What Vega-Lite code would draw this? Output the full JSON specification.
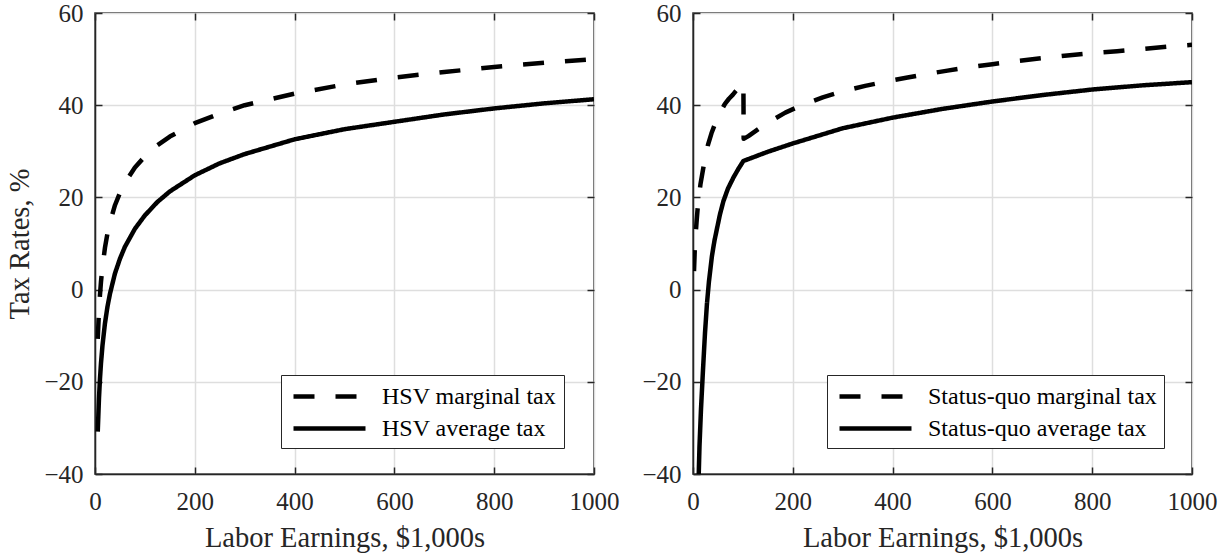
{
  "$schema": "https://vega.github.io/schema/vega-lite/v6.json",
  "background": "white",
  "padding": {"left": 5, "top": 0, "right": 10, "bottom": 0},
  "spacing": 99,
  "bounds": "flush",
  "datasets": {
    "hsv": [
      {"earnings": 5.5, "rate": -10.7, "series": "HSV marginal tax"},
      {"earnings": 8, "rate": -4.6, "series": "HSV marginal tax"},
      {"earnings": 10, "rate": -1.1, "series": "HSV marginal tax"},
      {"earnings": 12, "rate": 1.7, "series": "HSV marginal tax"},
      {"earnings": 15, "rate": 5.0, "series": "HSV marginal tax"},
      {"earnings": 20, "rate": 9.1, "series": "HSV marginal tax"},
      {"earnings": 25, "rate": 12.2, "series": "HSV marginal tax"},
      {"earnings": 30, "rate": 14.6, "series": "HSV marginal tax"},
      {"earnings": 40, "rate": 18.3, "series": "HSV marginal tax"},
      {"earnings": 50, "rate": 21.0, "series": "HSV marginal tax"},
      {"earnings": 60, "rate": 23.2, "series": "HSV marginal tax"},
      {"earnings": 80, "rate": 26.5, "series": "HSV marginal tax"},
      {"earnings": 100, "rate": 28.9, "series": "HSV marginal tax"},
      {"earnings": 125, "rate": 31.3, "series": "HSV marginal tax"},
      {"earnings": 150, "rate": 33.2, "series": "HSV marginal tax"},
      {"earnings": 200, "rate": 36.1, "series": "HSV marginal tax"},
      {"earnings": 250, "rate": 38.2, "series": "HSV marginal tax"},
      {"earnings": 300, "rate": 40.0, "series": "HSV marginal tax"},
      {"earnings": 400, "rate": 42.5, "series": "HSV marginal tax"},
      {"earnings": 500, "rate": 44.5, "series": "HSV marginal tax"},
      {"earnings": 600, "rate": 46.0, "series": "HSV marginal tax"},
      {"earnings": 700, "rate": 47.2, "series": "HSV marginal tax"},
      {"earnings": 800, "rate": 48.3, "series": "HSV marginal tax"},
      {"earnings": 900, "rate": 49.2, "series": "HSV marginal tax"},
      {"earnings": 1000, "rate": 50.0, "series": "HSV marginal tax"},
      {"earnings": 5.5, "rate": -30.8, "series": "HSV average tax"},
      {"earnings": 8, "rate": -23.5, "series": "HSV average tax"},
      {"earnings": 10, "rate": -19.3, "series": "HSV average tax"},
      {"earnings": 12, "rate": -16.0, "series": "HSV average tax"},
      {"earnings": 15, "rate": -12.1, "series": "HSV average tax"},
      {"earnings": 20, "rate": -7.3, "series": "HSV average tax"},
      {"earnings": 25, "rate": -3.7, "series": "HSV average tax"},
      {"earnings": 30, "rate": -0.9, "series": "HSV average tax"},
      {"earnings": 40, "rate": 3.5, "series": "HSV average tax"},
      {"earnings": 50, "rate": 6.7, "series": "HSV average tax"},
      {"earnings": 60, "rate": 9.3, "series": "HSV average tax"},
      {"earnings": 80, "rate": 13.2, "series": "HSV average tax"},
      {"earnings": 100, "rate": 16.1, "series": "HSV average tax"},
      {"earnings": 125, "rate": 19.0, "series": "HSV average tax"},
      {"earnings": 150, "rate": 21.3, "series": "HSV average tax"},
      {"earnings": 200, "rate": 24.8, "series": "HSV average tax"},
      {"earnings": 250, "rate": 27.4, "series": "HSV average tax"},
      {"earnings": 300, "rate": 29.4, "series": "HSV average tax"},
      {"earnings": 400, "rate": 32.6, "series": "HSV average tax"},
      {"earnings": 500, "rate": 34.8, "series": "HSV average tax"},
      {"earnings": 600, "rate": 36.4, "series": "HSV average tax"},
      {"earnings": 700, "rate": 38.0, "series": "HSV average tax"},
      {"earnings": 800, "rate": 39.3, "series": "HSV average tax"},
      {"earnings": 900, "rate": 40.4, "series": "HSV average tax"},
      {"earnings": 1000, "rate": 41.3, "series": "HSV average tax"}
    ],
    "statusquo": [
      {"earnings": 2, "rate": 4.0, "series": "Status-quo marginal tax"},
      {"earnings": 4, "rate": 10.0, "series": "Status-quo marginal tax"},
      {"earnings": 7, "rate": 14.5, "series": "Status-quo marginal tax"},
      {"earnings": 10, "rate": 18.5, "series": "Status-quo marginal tax"},
      {"earnings": 15, "rate": 22.9, "series": "Status-quo marginal tax"},
      {"earnings": 22, "rate": 27.2, "series": "Status-quo marginal tax"},
      {"earnings": 30, "rate": 31.4, "series": "Status-quo marginal tax"},
      {"earnings": 37, "rate": 33.9, "series": "Status-quo marginal tax"},
      {"earnings": 44, "rate": 35.9, "series": "Status-quo marginal tax"},
      {"earnings": 50, "rate": 37.4, "series": "Status-quo marginal tax"},
      {"earnings": 57, "rate": 38.9, "series": "Status-quo marginal tax"},
      {"earnings": 64, "rate": 40.3, "series": "Status-quo marginal tax"},
      {"earnings": 72, "rate": 41.4, "series": "Status-quo marginal tax"},
      {"earnings": 80, "rate": 42.3, "series": "Status-quo marginal tax"},
      {"earnings": 86, "rate": 43.1, "series": "Status-quo marginal tax"},
      {"earnings": 93, "rate": 44.0, "series": "Status-quo marginal tax"},
      {"earnings": 101, "rate": 44.8, "series": "Status-quo marginal tax"},
      {"earnings": 101.5, "rate": 32.7, "series": "Status-quo marginal tax"},
      {"earnings": 111, "rate": 33.3, "series": "Status-quo marginal tax"},
      {"earnings": 145, "rate": 35.9, "series": "Status-quo marginal tax"},
      {"earnings": 185, "rate": 38.4, "series": "Status-quo marginal tax"},
      {"earnings": 220, "rate": 40.1, "series": "Status-quo marginal tax"},
      {"earnings": 260, "rate": 41.7, "series": "Status-quo marginal tax"},
      {"earnings": 300, "rate": 43.0, "series": "Status-quo marginal tax"},
      {"earnings": 345, "rate": 44.2, "series": "Status-quo marginal tax"},
      {"earnings": 385, "rate": 45.1, "series": "Status-quo marginal tax"},
      {"earnings": 430, "rate": 46.0, "series": "Status-quo marginal tax"},
      {"earnings": 470, "rate": 46.8, "series": "Status-quo marginal tax"},
      {"earnings": 510, "rate": 47.5, "series": "Status-quo marginal tax"},
      {"earnings": 550, "rate": 48.2, "series": "Status-quo marginal tax"},
      {"earnings": 600, "rate": 48.9, "series": "Status-quo marginal tax"},
      {"earnings": 650, "rate": 49.6, "series": "Status-quo marginal tax"},
      {"earnings": 700, "rate": 50.2, "series": "Status-quo marginal tax"},
      {"earnings": 750, "rate": 50.8, "series": "Status-quo marginal tax"},
      {"earnings": 800, "rate": 51.3, "series": "Status-quo marginal tax"},
      {"earnings": 850, "rate": 51.7, "series": "Status-quo marginal tax"},
      {"earnings": 900, "rate": 52.2, "series": "Status-quo marginal tax"},
      {"earnings": 950, "rate": 52.7, "series": "Status-quo marginal tax"},
      {"earnings": 1000, "rate": 53.1, "series": "Status-quo marginal tax"},
      {"earnings": 9.5, "rate": -50.0, "series": "Status-quo average tax"},
      {"earnings": 11, "rate": -42.0, "series": "Status-quo average tax"},
      {"earnings": 13, "rate": -34.0, "series": "Status-quo average tax"},
      {"earnings": 16, "rate": -26.0, "series": "Status-quo average tax"},
      {"earnings": 20, "rate": -17.5, "series": "Status-quo average tax"},
      {"earnings": 24, "rate": -9.5, "series": "Status-quo average tax"},
      {"earnings": 28, "rate": -3.0, "series": "Status-quo average tax"},
      {"earnings": 32, "rate": 1.8, "series": "Status-quo average tax"},
      {"earnings": 38, "rate": 7.3, "series": "Status-quo average tax"},
      {"earnings": 43, "rate": 10.6, "series": "Status-quo average tax"},
      {"earnings": 48, "rate": 13.2, "series": "Status-quo average tax"},
      {"earnings": 54, "rate": 16.3, "series": "Status-quo average tax"},
      {"earnings": 61, "rate": 19.2, "series": "Status-quo average tax"},
      {"earnings": 70, "rate": 21.9, "series": "Status-quo average tax"},
      {"earnings": 81, "rate": 24.3, "series": "Status-quo average tax"},
      {"earnings": 91, "rate": 26.2, "series": "Status-quo average tax"},
      {"earnings": 101, "rate": 27.9, "series": "Status-quo average tax"},
      {"earnings": 150, "rate": 29.9, "series": "Status-quo average tax"},
      {"earnings": 200, "rate": 31.7, "series": "Status-quo average tax"},
      {"earnings": 300, "rate": 35.0, "series": "Status-quo average tax"},
      {"earnings": 400, "rate": 37.3, "series": "Status-quo average tax"},
      {"earnings": 500, "rate": 39.2, "series": "Status-quo average tax"},
      {"earnings": 600, "rate": 40.8, "series": "Status-quo average tax"},
      {"earnings": 700, "rate": 42.2, "series": "Status-quo average tax"},
      {"earnings": 800, "rate": 43.4, "series": "Status-quo average tax"},
      {"earnings": 900, "rate": 44.3, "series": "Status-quo average tax"},
      {"earnings": 1000, "rate": 45.0, "series": "Status-quo average tax"}
    ]
  },
  "hconcat": [
    {
      "width": 499,
      "height": 461,
      "data": {"name": "hsv"},
      "layer": [
        {
          "mark": {"type": "line", "clip": true, "strokeWidth": 4.5, "strokeCap": "butt", "strokeJoin": "round", "color": "black"},
          "encoding": {
            "x": {"field": "earnings", "type": "quantitative", "scale": {"domain": [0, 1000], "nice": false},
                  "axis": {"title": "Labor Earnings, $1,000s", "values": [0, 200, 400, 600, 800, 1000], "format": "d", "grid": true}},
            "y": {"field": "rate", "type": "quantitative", "scale": {"domain": [-40, 60], "nice": false},
                  "axis": {"title": "Tax Rates, %", "values": [-40, -20, 0, 20, 40, 60], "grid": true}},
            "strokeDash": {"field": "series", "type": "nominal",
                  "scale": {"domain": ["HSV marginal tax", "HSV average tax"], "range": [[21, 21], [1, 0]]},
                  "legend": {"orient": "none", "legendX": 186, "legendY": 362, "title": null}}
          }
        },
        {
          "mark": {"type": "line", "opacity": 0},
          "encoding": {
            "x": {"field": "earnings", "type": "quantitative", "scale": {"domain": [0, 1000], "nice": false},
                  "axis": {"orient": "top", "title": null, "labels": false, "domain": false, "grid": false, "values": [0, 200, 400, 600, 800, 1000]}},
            "y": {"field": "rate", "type": "quantitative", "scale": {"domain": [-40, 60], "nice": false},
                  "axis": {"orient": "right", "title": null, "labels": false, "domain": false, "grid": false, "values": [-40, -20, 0, 20, 40, 60]}},
            "detail": {"field": "series"}
          }
        }
      ],
      "resolve": {"axis": {"x": "independent", "y": "independent"}}
    },
    {
      "width": 499,
      "height": 461,
      "data": {"name": "statusquo"},
      "layer": [
        {
          "mark": {"type": "line", "clip": true, "strokeWidth": 4.5, "strokeCap": "butt", "strokeJoin": "round", "color": "black"},
          "encoding": {
            "x": {"field": "earnings", "type": "quantitative", "scale": {"domain": [0, 1000], "nice": false},
                  "axis": {"title": "Labor Earnings, $1,000s", "values": [0, 200, 400, 600, 800, 1000], "format": "d", "grid": true}},
            "y": {"field": "rate", "type": "quantitative", "scale": {"domain": [-40, 60], "nice": false},
                  "axis": {"title": null, "values": [-40, -20, 0, 20, 40, 60], "grid": true}},
            "strokeDash": {"field": "series", "type": "nominal",
                  "scale": {"domain": ["Status-quo marginal tax", "Status-quo average tax"], "range": [[21, 21], [1, 0]]},
                  "legend": {"orient": "none", "legendX": 134, "legendY": 362, "title": null}}
          }
        },
        {
          "mark": {"type": "line", "opacity": 0},
          "encoding": {
            "x": {"field": "earnings", "type": "quantitative", "scale": {"domain": [0, 1000], "nice": false},
                  "axis": {"orient": "top", "title": null, "labels": false, "domain": false, "grid": false, "values": [0, 200, 400, 600, 800, 1000]}},
            "y": {"field": "rate", "type": "quantitative", "scale": {"domain": [-40, 60], "nice": false},
                  "axis": {"orient": "right", "title": null, "labels": false, "domain": false, "grid": false, "values": [-40, -20, 0, 20, 40, 60]}},
            "detail": {"field": "series"}
          }
        }
      ],
      "resolve": {"axis": {"x": "independent", "y": "independent"}}
    }
  ],
  "resolve": {"scale": {"strokeDash": "independent"}, "legend": {"strokeDash": "independent"}},
  "config": {
    "font": "Liberation Serif",
    "view": {"stroke": "#262626", "strokeWidth": 1.5},
    "axis": {
      "domainColor": "#262626",
      "domainWidth": 1.5,
      "tickColor": "#262626",
      "tickWidth": 1.5,
      "tickSize": -7,
      "gridColor": "#dedede",
      "gridWidth": 1.5,
      "labelFlush": false,
      "labelFont": "Liberation Serif",
      "labelFontSize": 25,
      "labelColor": "#262626",
      "titleFont": "Liberation Serif",
      "titleFontSize": 28.5,
      "titleFontWeight": "normal",
      "titleColor": "#262626"
    },
    "axisX": {"labelPadding": 22, "titlePadding": 9},
    "axisY": {"labelPadding": 19, "titlePadding": 9},
    "legend": {
      "strokeColor": "#262626",
      "fillColor": "white",
      "padding": 7,
      "symbolType": "M-0.75,0H5.25",
      "symbolSize": 576,
      "symbolStrokeWidth": 4.5,
      "symbolStrokeColor": "black",
      "symbolFillColor": "transparent",
      "labelFont": "Liberation Serif",
      "labelFontSize": 24,
      "labelColor": "black",
      "labelOffset": 65,
      "labelLimit": 400,
      "rowPadding": 5
    }
  }
}
